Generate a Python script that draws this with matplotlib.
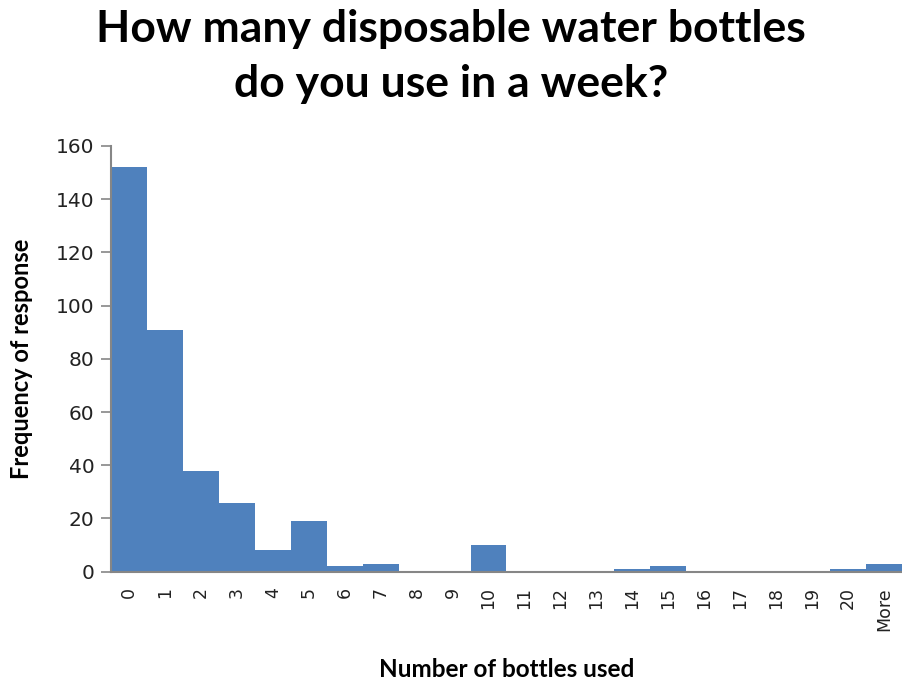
import matplotlib
matplotlib.use('Agg')
import matplotlib.pyplot as plt
import numpy as np

# data
categories = ['0', '1', '2', '3', '4', '5', '6', '7', '8', '9', '10',
              '11', '12', '13', '14', '15', '16', '17', '18', '19', '20', 'More']
counts = [152, 91, 38, 26, 8, 19, 2, 3, 0, 0, 10,
          0, 0, 0, 1, 2, 0, 0, 0, 0, 1, 3]
y_ticks = [0, 20, 40, 60, 80, 100, 120, 140, 160]

bar_color = '#4F81BD'
axis_color = '#868686'

fig = plt.figure(figsize=(9.02, 6.88), dpi=100)
ax = fig.add_axes([0.123, 0.169, 0.877, 0.619])

x = np.arange(len(categories))
ax.bar(x, counts, width=1.0, color=bar_color, edgecolor='none')

ax.set_xlim(-0.5, len(categories) - 0.5)
ax.set_ylim(0, 160)
ax.set_yticks(y_ticks)
ax.set_xticks(x)
ax.set_xticklabels(categories, rotation=90, fontsize=12.5,
                   family='DejaVu Sans', color='#222222')
ax.tick_params(axis='x', length=0, pad=11)
ax.tick_params(axis='y', length=7, width=1.2, color=axis_color, pad=5,
               labelsize=14.5)
for lbl in ax.get_yticklabels():
    lbl.set_family('DejaVu Sans')
    lbl.set_color('#222222')

for side in ['top', 'right']:
    ax.spines[side].set_visible(False)
for side in ['left', 'bottom']:
    ax.spines[side].set_color(axis_color)
    ax.spines[side].set_linewidth(1.5)

ax.set_ylabel('Frequency of response', family='Lato', fontweight='bold',
              fontsize=17, labelpad=16)
ax.set_xlabel('Number of bottles used', family='Lato', fontweight='bold',
              fontsize=17.5, labelpad=20)

fig.text(0.5, 0.987, 'How many disposable water bottles\ndo you use in a week?',
         ha='center', va='top', family='Lato', fontweight='bold',
         fontsize=32, linespacing=1.45)

plt.savefig('out.png', dpi=100)
plt.close()
